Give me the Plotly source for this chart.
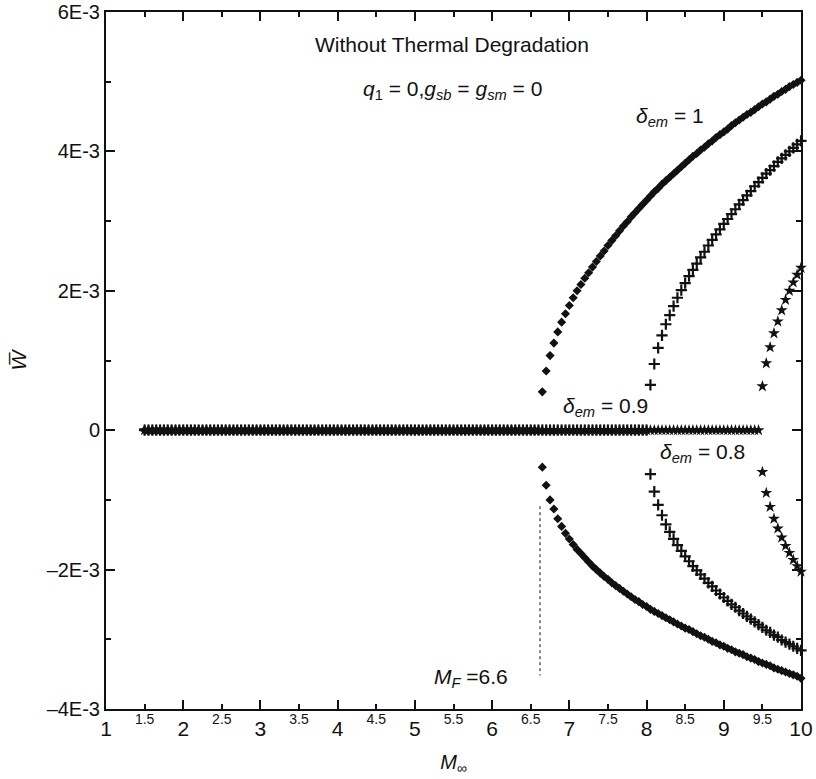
import numpy as np
import plotly.graph_objects as go

# ---------------- data (W in units of 1E-3) ----------------
STEP = 0.05
def m_grid(a, b):
    return np.round(np.arange(a, b + 1e-9, STEP), 2)

# zero (unbuckled) solutions
d1_zero_x = m_grid(1.5, 6.60)
d09_zero_x = m_grid(1.5, 8.00)
d08_zero_x = m_grid(1.5, 9.45)

# delta_em = 1 branches (M = 6.65 ... 10)
d1_branch_x = m_grid(6.65, 10.0)
d1_upper = [0.55, 0.85, 1.07, 1.25, 1.41, 1.55, 1.67, 1.79, 1.90, 2.00, 2.09, 2.18, 2.26, 2.34,
            2.42, 2.50, 2.57, 2.65, 2.72, 2.79, 2.86, 2.93, 2.99, 3.06, 3.12, 3.18, 3.24, 3.30,
            3.36, 3.42, 3.47, 3.53, 3.58, 3.63, 3.68, 3.73, 3.78, 3.83, 3.88, 3.93, 3.97, 4.02,
            4.06, 4.11, 4.15, 4.20, 4.24, 4.28, 4.32, 4.37, 4.41, 4.45, 4.49, 4.53, 4.56, 4.60,
            4.64, 4.68, 4.71, 4.75, 4.79, 4.82, 4.86, 4.89, 4.93, 4.96, 4.99, 5.02]
d1_lower = [-0.53, -0.79, -1.00, -1.13, -1.27, -1.38, -1.48, -1.56, -1.64, -1.71, -1.77, -1.83,
            -1.89, -1.95, -2.00, -2.05, -2.10, -2.14, -2.19, -2.23, -2.27, -2.31, -2.35, -2.39,
            -2.43, -2.46, -2.50, -2.53, -2.57, -2.60, -2.63, -2.66, -2.69, -2.72, -2.75, -2.78,
            -2.81, -2.84, -2.86, -2.89, -2.92, -2.95, -2.97, -3.00, -3.03, -3.05, -3.08, -3.10,
            -3.13, -3.15, -3.18, -3.20, -3.22, -3.25, -3.27, -3.29, -3.32, -3.34, -3.36, -3.38,
            -3.41, -3.43, -3.45, -3.47, -3.49, -3.51, -3.53, -3.56]

# delta_em = 0.9 branches (M = 8.05 ... 10)
d09_branch_x = m_grid(8.05, 10.0)
d09_upper = [0.65, 0.95, 1.18, 1.36, 1.52, 1.65, 1.78, 1.90, 2.01, 2.11, 2.21, 2.30, 2.39, 2.48,
             2.56, 2.65, 2.73, 2.81, 2.88, 2.96, 3.03, 3.10, 3.17, 3.24, 3.30, 3.37, 3.43, 3.50,
             3.56, 3.62, 3.68, 3.73, 3.79, 3.85, 3.90, 3.95, 4.00, 4.05, 4.10, 4.15]
d09_lower = [-0.63, -0.88, -1.07, -1.22, -1.35, -1.46, -1.56, -1.65, -1.73, -1.81, -1.88, -1.95,
             -2.01, -2.07, -2.13, -2.19, -2.24, -2.30, -2.35, -2.40, -2.45, -2.50, -2.54, -2.59,
             -2.63, -2.67, -2.71, -2.75, -2.79, -2.83, -2.87, -2.90, -2.94, -2.97, -3.01, -3.04,
             -3.07, -3.10, -3.13, -3.16]

# delta_em = 0.8 branches (M = 9.50 ... 10)
d08_branch_x = m_grid(9.50, 10.0)
d08_upper = [0.63, 0.96, 1.19, 1.39, 1.56, 1.72, 1.87, 2.00, 2.12, 2.23, 2.33]
d08_lower = [-0.60, -0.90, -1.10, -1.27, -1.41, -1.54, -1.66, -1.76, -1.86, -1.95, -2.03]

# flutter onset marker line M_F
mf_x = [6.62, 6.62]
mf_y = [-1.09, -3.52]

SCALE = 1e-3

x_major = [1, 2, 3, 4, 5, 6, 7, 8, 9, 10]
x_minor = [1.5, 2.5, 3.5, 4.5, 5.5, 6.5, 7.5, 8.5, 9.5]
x_minor_text = ["1.5", "2.5", "3.5", "4.5", "5.5", "6.5", "7.5", "8.5", "9.5"]
y_major = [-4, -2, 0, 2, 4, 6]
y_major_text = ["\u20134E-3", "\u20132E-3", "0", "2E-3", "4E-3", "6E-3"]
y_minor = [-3, -1, 1, 3, 5]

FONT = "Liberation Sans, Arial, sans-serif"
INK = "#111111"


def series(zero_x, bx, up, lo):
    x = np.concatenate([zero_x, bx, bx])
    y = np.concatenate([np.zeros(len(zero_x)), np.array(up), np.array(lo)]) * SCALE
    return x, y


fig = go.Figure()

x8, y8 = series(d08_zero_x, d08_branch_x, d08_upper, d08_lower)
fig.add_trace(go.Scatter(x=x8, y=y8, mode="markers", cliponaxis=False,
                         marker=dict(symbol="star", size=9, color=INK, line=dict(width=0)),
                         showlegend=False))
x9, y9 = series(d09_zero_x, d09_branch_x, d09_upper, d09_lower)
fig.add_trace(go.Scatter(x=x9, y=y9, mode="markers", cliponaxis=False,
                         marker=dict(symbol="cross-thin", size=8, color=INK,
                                     line=dict(width=2.2, color=INK)),
                         showlegend=False))
x1, y1 = series(d1_zero_x, d1_branch_x, d1_upper, d1_lower)
fig.add_trace(go.Scatter(x=x1, y=y1, mode="markers", cliponaxis=False,
                         marker=dict(symbol="diamond", size=7, color=INK, line=dict(width=0)),
                         showlegend=False))
fig.add_trace(go.Scatter(x=mf_x, y=np.array(mf_y) * SCALE, mode="lines",
                         line=dict(color=INK, width=1, dash="dot"), showlegend=False))

# invisible trace to activate the half-value label axis
fig.add_trace(go.Scatter(x=[1, 10], y=[0, 0], xaxis="x2", mode="markers",
                         marker=dict(opacity=0), hoverinfo="skip", showlegend=False))

fig.update_layout(
    width=816, height=779,
    margin=dict(l=106, r=15, t=12, b=70, autoexpand=False),
    paper_bgcolor="white", plot_bgcolor="white",
    font=dict(family=FONT, size=20, color=INK),
    xaxis=dict(range=[1, 10], tickvals=x_major, ticks="inside", ticklen=9, tickwidth=1.5,
               tickcolor=INK, showline=True, linewidth=2, linecolor=INK, mirror="ticks",
               showgrid=False, zeroline=False, tickfont=dict(size=21), automargin=False,
               minor=dict(tickvals=x_minor, ticks="inside", ticklen=5, tickwidth=1.5,
                          tickcolor=INK, showgrid=False),
               title=dict(text="<i>M</i><sub>\u221e</sub>", font=dict(size=20), standoff=16)),
    xaxis2=dict(range=[1, 10], overlaying="x", side="bottom", anchor="y", automargin=False,
                tickvals=x_minor, ticktext=x_minor_text, ticks="", showline=False,
                showgrid=False, zeroline=False, tickfont=dict(size=14)),
    yaxis=dict(range=[-4 * SCALE, 6 * SCALE], tickvals=[v * SCALE for v in y_major],
               ticktext=y_major_text, ticks="inside", ticklen=9, tickwidth=1.5, tickcolor=INK,
               showline=True, linewidth=2, linecolor=INK, mirror="ticks", showgrid=False,
               zeroline=False, tickfont=dict(size=20), automargin=False,
               minor=dict(tickvals=[v * SCALE for v in y_minor], ticks="inside", ticklen=5,
                          tickwidth=1.5, tickcolor=INK, showgrid=False),
               title=dict(text="<i>W\u0305</i>", font=dict(size=21), standoff=14)),
)

ann = dict(showarrow=False, font=dict(family=FONT, size=21, color=INK), xref="x", yref="y")
fig.add_annotation(x=5.48, y=5.54 * SCALE, text="Without Thermal Degradation", **ann)
fig.add_annotation(x=5.49, y=4.88 * SCALE,
                   text="<i>q</i><sub>1</sub> = 0,<i>g<sub>sb</sub></i> = <i>g<sub>sm</sub></i> = 0", **ann)
fig.add_annotation(x=8.30, y=4.49 * SCALE, text="<i>\u03b4<sub>em</sub></i> = 1", **ann)
fig.add_annotation(x=7.47, y=0.33 * SCALE, text="<i>\u03b4<sub>em</sub></i> = 0.9", **ann)
fig.add_annotation(x=8.73, y=-0.33 * SCALE, text="<i>\u03b4<sub>em</sub></i> = 0.8", **ann)
fig.add_annotation(x=5.73, y=-3.56 * SCALE, text="<i>M<sub>F</sub></i> =6.6", **ann)

fig.write_html("out.html")
